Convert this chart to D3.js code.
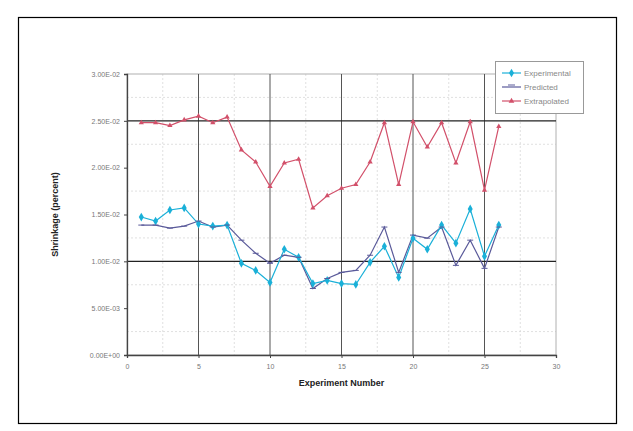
<!DOCTYPE html>
<html><head><meta charset="utf-8">
<script src="https://cdn.jsdelivr.net/npm/d3@7"></script>
<style>body{margin:0;background:#fff;}svg{display:block;font-family:Arial,"Liberation Sans",sans-serif;}</style>
</head><body>
<svg id="c" width="633" height="431"></svg>
<script>
const experimentNumbers = d3.range(1, 27);
const experimental = [0.01473,0.01430,0.01548,0.01570,0.01398,0.01376,0.01387,0.00979,0.00903,0.00774,0.01129,0.01043,0.00763,0.00796,0.00763,0.00753,0.00989,0.01161,0.00828,0.01247,0.01129,0.01387,0.01194,0.01559,0.01054,0.01387];
const predicted = [0.01387,0.01387,0.01355,0.01376,0.01430,0.01366,0.01387,0.01226,0.01086,0.00979,0.01065,0.01043,0.00710,0.00817,0.00882,0.00903,0.01065,0.01366,0.00882,0.01280,0.01247,0.01366,0.00957,0.01226,0.00925,0.01366];
const extrapolated = [0.0248,0.0248,0.0245,0.0251,0.0255,0.0248,0.0254,0.0219,0.0206,0.0180,0.0205,0.0209,0.0157,0.0170,0.0178,0.0182,0.0206,0.0248,0.0182,0.0249,0.0222,0.0248,0.0205,0.0249,0.0176,0.0244];
const xTicks = [0,5,10,15,20,25,30];
const yTicks = [0,0.005,0.01,0.015,0.02,0.025,0.03];
const yTickLabels = ["0.00E+00","5.00E-03","1.00E-02","1.50E-02","2.00E-02","2.50E-02","3.00E-02"];
const refLines = [0.01, 0.025];
const seriesNames = ["Experimental","Predicted","Extrapolated"];

const svg = d3.select("#c");
svg.append("rect").attr("x",18.5).attr("y",17.5).attr("width",598).attr("height",406)
  .attr("fill","#fff").attr("stroke","#000").attr("stroke-width",1.2);

const L=127,R=556,T=74,B=355;
const x = d3.scaleLinear().domain([0,30]).range([L,R]);
const y = d3.scaleLinear().domain([0,0.03]).range([B,T]);

// faint minor gridlines
const g0 = svg.append("g");
d3.range(2.5,30,5).forEach(v=>g0.append("line").attr("x1",x(v)).attr("x2",x(v)).attr("y1",T).attr("y2",B)
  .attr("stroke","#d8d8d8").attr("stroke-dasharray","2,2").attr("stroke-width",0.8));
d3.range(0.0025,0.03,0.005).forEach(v=>g0.append("line").attr("x1",L).attr("x2",R).attr("y1",y(v)).attr("y2",y(v))
  .attr("stroke","#d8d8d8").attr("stroke-dasharray","2,2").attr("stroke-width",0.8));

// plot border
svg.append("rect").attr("x",L).attr("y",T).attr("width",R-L).attr("height",B-T)
  .attr("fill","none").attr("stroke","#b0b0b0").attr("stroke-width",1);

// vertical major gridlines
[5,10,15,20,25].forEach(v=>svg.append("line").attr("x1",x(v)).attr("x2",x(v)).attr("y1",T).attr("y2",B)
  .attr("stroke","#555").attr("stroke-width",1));
// horizontal reference lines
refLines.forEach(v=>svg.append("line").attr("x1",L).attr("x2",R).attr("y1",y(v)).attr("y2",y(v))
  .attr("stroke","#222").attr("stroke-width",1.3));

// axes
const xa = svg.append("g").attr("transform",`translate(0,${B})`)
  .call(d3.axisBottom(x).tickValues(xTicks).tickSize(3).tickPadding(6));
const ya = svg.append("g").attr("transform",`translate(${L},0)`)
  .call(d3.axisLeft(y).tickValues(yTicks).tickFormat((d,i)=>yTickLabels[i]).tickSize(3).tickPadding(4));
[xa,ya].forEach(a=>{a.select(".domain").attr("stroke","#444").attr("stroke-width",1.3);
  a.selectAll(".tick line").attr("stroke","#444");
  a.selectAll("text").attr("fill","#777").attr("font-size","7px");});

svg.append("text").attr("x",(L+R)/2).attr("y",386).attr("text-anchor","middle")
  .attr("font-size","9px").attr("font-weight","bold").attr("fill","#222").text("Experiment Number");
svg.append("text").attr("transform",`translate(58,${(T+B)/2}) rotate(-90)`).attr("text-anchor","middle")
  .attr("font-size","9px").attr("font-weight","bold").attr("fill","#222").text("Shrinkage (percent)");

const line = d3.line().x((d,i)=>x(experimentNumbers[i])).y(d=>y(d));
const colors = {exp:"#1ab0d8", pred:"#5a5a9a", ext:"#d2506a"};

svg.append("path").datum(extrapolated).attr("d",line).attr("fill","none").attr("stroke",colors.ext).attr("stroke-width",1.2);
svg.append("path").datum(predicted).attr("d",line).attr("fill","none").attr("stroke",colors.pred).attr("stroke-width",1.2);
svg.append("path").datum(experimental).attr("d",line).attr("fill","none").attr("stroke",colors.exp).attr("stroke-width",1.2);

const sym = d3.symbol();
svg.selectAll(".me").data(experimental).enter().append("path")
  .attr("transform",(d,i)=>`translate(${x(experimentNumbers[i])},${y(d)})`)
  .attr("d",sym.type(d3.symbolDiamond).size(22)()).attr("fill",colors.exp);
svg.selectAll(".mp").data(predicted).enter().append("line")
  .attr("x1",(d,i)=>x(experimentNumbers[i])-3).attr("x2",(d,i)=>x(experimentNumbers[i])+3)
  .attr("y1",d=>y(d)).attr("y2",d=>y(d)).attr("stroke",colors.pred).attr("stroke-width",1);
svg.selectAll(".mx").data(extrapolated).enter().append("path")
  .attr("transform",(d,i)=>`translate(${x(experimentNumbers[i])},${y(d)})`)
  .attr("d",d3.symbol().type(d3.symbolTriangle).size(12)()).attr("fill",colors.ext);

// legend
const lg = svg.append("g");
lg.append("rect").attr("x",495.5).attr("y",61.5).attr("width",88).attr("height",52).attr("fill","#fff").attr("stroke","#999");
const lcol=[colors.exp,colors.pred,colors.ext];
seriesNames.forEach((n,i)=>{
  const yy = 73 + i*14;
  lg.append("line").attr("x1",502).attr("x2",521).attr("y1",yy).attr("y2",yy).attr("stroke",lcol[i]).attr("stroke-width",1.2);
  if(i===0) lg.append("path").attr("transform",`translate(511.5,${yy})`).attr("d",d3.symbol().type(d3.symbolDiamond).size(22)()).attr("fill",lcol[i]);
  if(i===1) lg.append("line").attr("x1",508).attr("x2",515).attr("y1",yy-2).attr("y2",yy-2).attr("stroke",lcol[i]);
  if(i===2) lg.append("path").attr("transform",`translate(511.5,${yy})`).attr("d",d3.symbol().type(d3.symbolTriangle).size(14)()).attr("fill",lcol[i]);
  lg.append("text").attr("x",524).attr("y",yy+3).attr("font-size","8px").attr("fill","#888").text(n);
});
</script>
</body></html>
